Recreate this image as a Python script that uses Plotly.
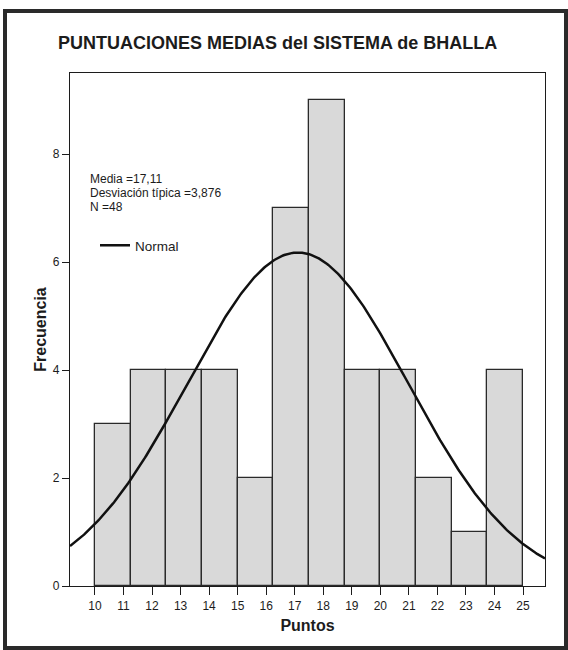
import numpy as np
import plotly.graph_objects as go

# Histogram of mean scores (12 bins of width 1.25 from 10 to 25)
bin_start = 10.0
bin_width = 1.25
counts = [3, 4, 4, 4, 2, 7, 9, 4, 4, 2, 1, 4]

# Summary statistics shown on the chart
media = 17.11
desviacion = 3.876
n_total = 48

x_ticks = list(range(10, 26))
y_ticks = [0, 2, 4, 6, 8]

FONT = "Liberation Sans, Arial, Helvetica, sans-serif"
INK = "#1c1c1c"

# plot-area geometry in pixels (for paper-coordinate placement of extras)
W, H = 568, 650
L, R, T, B = 70, 23, 73, 64
PW, PH = W - L - R, H - T - B


def px_x(px):
    return (px - L) / PW


def px_y(py):
    return (H - B - py) / PH


centers = [bin_start + bin_width * (i + 0.5) for i in range(len(counts))]

x_range = [9.125, 25.77]
y_range = [0, 9.5]

# fitted normal curve scaled to counts
xs = np.linspace(x_range[0], x_range[1], 400)
ys = n_total * bin_width / (desviacion * np.sqrt(2 * np.pi)) * np.exp(
    -0.5 * ((xs - media) / desviacion) ** 2
)

fig = go.Figure()
fig.add_trace(
    go.Bar(
        x=centers,
        y=counts,
        width=bin_width,
        marker=dict(color="#d9d9d9", line=dict(color="#2a2a2a", width=1.3)),
        showlegend=False,
        hoverinfo="x+y",
    )
)
fig.add_trace(
    go.Scatter(
        x=xs,
        y=ys,
        mode="lines",
        name="Normal",
        line=dict(color="#111111", width=2.5),
        showlegend=True,
    )
)

fig.update_layout(
    width=W,
    height=H,
    margin=dict(l=L, r=R, t=T, b=B, autoexpand=False),
    paper_bgcolor="white",
    plot_bgcolor="white",
    font=dict(family=FONT, color=INK, size=12),
    bargap=0,
    title=dict(
        text="<b>PUNTUACIONES MEDIAS del SISTEMA de BHALLA</b>",
        font=dict(family=FONT, size=18, color=INK),
        x=58 / W,
        xanchor="left",
        xref="container",
        y=1 - 43 / H,
        yanchor="middle",
        yref="container",
    ),
    xaxis=dict(
        range=x_range,
        tickvals=x_ticks,
        ticktext=[str(v) for v in x_ticks],
        ticks="outside",
        ticklen=8,
        tickcolor=INK,
        tickwidth=1,
        showgrid=False,
        zeroline=False,
        showline=True,
        linecolor=INK,
        linewidth=1.2,
        mirror=True,
        tickfont=dict(size=12, family=FONT, color=INK),
        title=dict(
            text="<b>Puntos</b>",
            font=dict(size=16, family=FONT, color=INK),
            standoff=8,
        ),
    ),
    yaxis=dict(
        range=y_range,
        tickvals=y_ticks,
        ticks="outside",
        ticklen=7,
        tickcolor=INK,
        tickwidth=1,
        showgrid=False,
        zeroline=False,
        showline=True,
        linecolor=INK,
        linewidth=1.2,
        mirror=True,
        tickfont=dict(size=12, family=FONT, color=INK),
        title=dict(
            text="<b>Frecuencia</b>",
            font=dict(size=16, family=FONT, color=INK),
            standoff=2,
        ),
    ),
    legend=dict(
        x=px_x(95),
        y=px_y(230),
        xanchor="left",
        yanchor="top",
        bgcolor="rgba(0,0,0,0)",
        font=dict(size=13.5, family=FONT, color=INK),
        itemwidth=30,
    ),
)

# statistics text block
stats_lines = [
    f"Media ={media:.2f}".replace(".", ","),
    f"Desviación típica ={desviacion:.3f}".replace(".", ","),
    f"N ={n_total}",
]
for i, line in enumerate(stats_lines):
    fig.add_annotation(
        text=line,
        xref="paper",
        yref="paper",
        x=px_x(88),
        y=px_y(179 + 14 * i),
        xanchor="left",
        yanchor="middle",
        showarrow=False,
        font=dict(size=12, family=FONT, color=INK),
    )

# outer frame around the whole chart
fig.add_shape(
    type="rect",
    xref="paper",
    yref="paper",
    x0=px_x(5),
    x1=px_x(566),
    y0=px_y(648),
    y1=px_y(11),
    line=dict(color="#2a2a2a", width=4),
    layer="above",
)

fig.write_html("out.html")
